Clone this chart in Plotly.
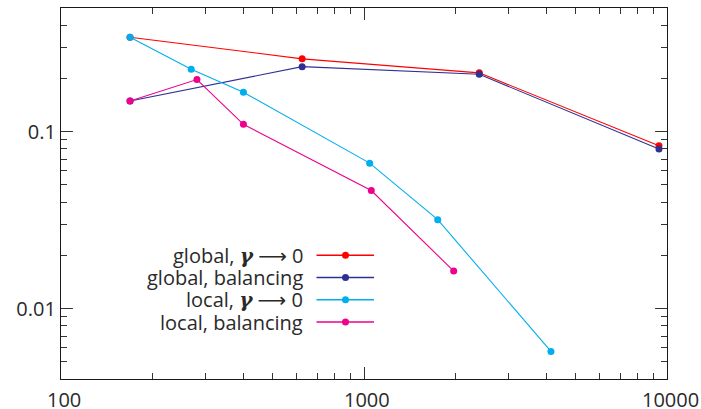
import math
import plotly.graph_objects as go

# ---- data ----
series_names = ["global, ", "global, balancing", "local, ", "local, balancing"]
series_has_gamma = [True, False, True, False]
series_colors = ["#ff0000", "#2e3192", "#00aeef", "#ec008c"]

global_gamma_x = [169, 625, 2401, 9409]
global_gamma_y = [0.342, 0.258, 0.215, 0.0833]

global_bal_x = [169, 625, 2401, 9409]
global_bal_y = [0.149, 0.233, 0.211, 0.0797]

local_gamma_x = [169, 269, 400, 1044, 1751, 4140]
local_gamma_y = [0.342, 0.225, 0.167, 0.0664, 0.0318, 0.00573]

local_bal_x = [169, 281, 400, 1057, 1977]
local_bal_y = [0.149, 0.197, 0.110, 0.0465, 0.0163]

x_major = [100, 1000, 10000]
x_major_text = ["100", "1000", "10000"]
x_minor = [m * d for d in (100, 1000) for m in range(2, 10)]
y_major = [0.01, 0.1]
y_major_text = ["0.01", "0.1"]
y_minor = [m * d for d in (0.001, 0.01, 0.1) for m in range(2, 10)]

series = [
    (global_gamma_x, global_gamma_y),
    (global_bal_x, global_bal_y),
    (local_gamma_x, local_gamma_y),
    (local_bal_x, local_bal_y),
]

FONT = "Open Sans"
TXT = "#2a2a2a"
FS = 20

fig = go.Figure()
for (xs, ys), name, col in zip(series, series_names, series_colors):
    fig.add_trace(go.Scatter(
        x=xs, y=ys, mode="lines+markers", name=name,
        line=dict(color=col, width=1.1),
        marker=dict(color=col, size=7),
        showlegend=False,
    ))

# ---- custom legend (text right-aligned, sample on the right) ----
W, H = 701, 409
L, R, T, B = 61, 34, 8, 30
pw, ph = W - L - R, H - T - B

def px2x(px):
    return (px - L) / pw

def py2y(py):
    return (H - B - py) / ph

GAMMA = ('<span style="font-family:\'DejaVu Serif\'"><b><i>γ</i></b></span>'
         ' <span style="font-family:\'DejaVu Sans\'">⟶</span> 0')

rows = [255.3, 277.5, 299.8, 322]
shapes = []
annotations = []
for name, g, col, ry in zip(series_names, series_has_gamma, series_colors, rows):
    annotations.append(dict(
        xref="paper", yref="paper", x=px2x(305), y=py2y(ry),
        xanchor="right", yanchor="middle", showarrow=False,
        text=name + (GAMMA if g else ""), font=dict(family=FONT, size=FS, color=TXT),
    ))
    shapes.append(dict(
        type="line", xref="paper", yref="paper",
        x0=px2x(316.5), x1=px2x(374), y0=py2y(ry), y1=py2y(ry),
        line=dict(color=col, width=1.6),
    ))
    shapes.append(dict(
        type="circle", xref="paper", yref="paper",
        xsizemode="pixel", ysizemode="pixel",
        xanchor=px2x(345.5), yanchor=py2y(ry),
        x0=-3.5, x1=3.5, y0=-3.5, y1=3.5,
        fillcolor=col, line=dict(color=col, width=0),
    ))

# x tick labels as annotations placed through the x axis
for v, t in zip(x_major, x_major_text):
    annotations.append(dict(
        xref="x", yref="paper", x=math.log10(v), y=py2y(399),
        xanchor="center", yanchor="middle", xshift=3, showarrow=False,
        text=t, font=dict(family=FONT, size=FS, color=TXT),
    ))

axis_common = dict(
    showline=True, linecolor="#1a1a1a", linewidth=1.3, mirror="allticks",
    ticks="inside", ticklen=12, tickwidth=1.2, tickcolor="#333333",
    showgrid=False, zeroline=False,
    tickfont=dict(family=FONT, size=FS, color=TXT),
    tickmode="array",
)

fig.update_xaxes(
    type="log", range=[2, 4],
    tickvals=x_major, ticktext=x_major_text, showticklabels=False,
    minor=dict(ticks="inside", ticklen=6, tickwidth=1.2, tickcolor="#333333",
               tickmode="array", tickvals=x_minor, showgrid=False),
    **axis_common,
)
fig.update_yaxes(
    type="log", range=[math.log10(0.004), math.log10(0.5)],
    tickvals=y_major, ticktext=y_major_text,
    minor=dict(ticks="inside", ticklen=6, tickwidth=1.2, tickcolor="#333333",
               tickmode="array", tickvals=y_minor, showgrid=False),
    **axis_common,
)

fig.update_layout(
    width=W, height=H,
    margin=dict(l=L, r=R, t=T, b=B, autoexpand=False),
    paper_bgcolor="white", plot_bgcolor="white",
    shapes=shapes, annotations=annotations,
    showlegend=False,
)

fig.write_html(
    "out.html",
    config={"displayModeBar": False},
    post_script="document.body.style.margin='0';document.body.style.overflow='hidden';",
)
